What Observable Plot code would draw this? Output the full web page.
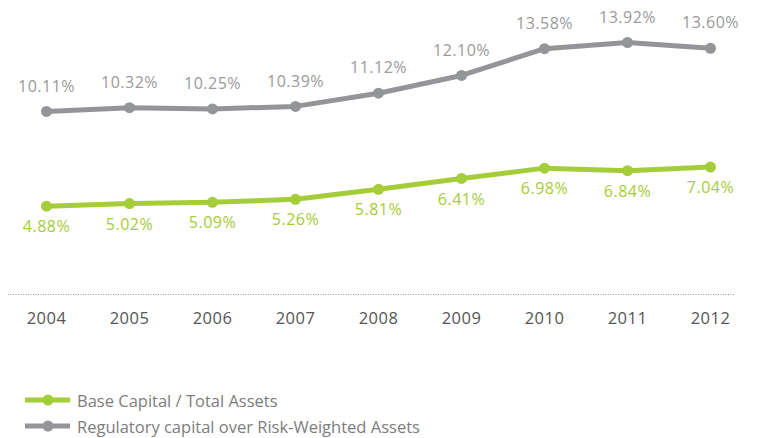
<!DOCTYPE html>
<html>
<head>
<meta charset="utf-8">
<script src="https://cdn.jsdelivr.net/npm/d3@7"></script>
<script src="https://cdn.jsdelivr.net/npm/@observablehq/plot@0.6"></script>
<style>
  html, body { margin: 0; padding: 0; background: #fff; }
  body { width: 760px; height: 438px; overflow: hidden; font-family: "Open Sans", Lato, sans-serif; }
  #legend { margin-top: 53px; margin-left: 25px; }
  .row { display: flex; align-items: center; height: 26px; font-size: 16.5px; color: #7d7d7d; }
  .sw { width: 45px; height: 14px; margin-right: 7px; }
  svg text { letter-spacing: 0.5px; }
</style>
</head>
<body>
<div id="chart"></div>
<div id="legend"></div>
<script>
const years = [2004, 2005, 2006, 2007, 2008, 2009, 2010, 2011, 2012];
const baseCapital = [4.88, 5.02, 5.09, 5.26, 5.81, 6.41, 6.98, 6.84, 7.04];
const regulatory = [10.11, 10.32, 10.25, 10.39, 11.12, 12.10, 13.58, 13.92, 13.60];
const seriesNames = ["Base Capital / Total Assets", "Regulatory capital over Risk-Weighted Assets"];
const green = "#a5cd39";
const gray = "#949599";

const green_d = years.map((y, i) => ({year: y, value: baseCapital[i]}));
const gray_d = years.map((y, i) => ({year: y, value: regulatory[i]}));
const fmt = d => d.value.toFixed(2) + "%";

const chart = Plot.plot({
  width: 760,
  height: 334,
  marginLeft: 46,
  marginRight: 50,
  marginTop: 20,
  marginBottom: 40,
  style: {fontFamily: "'Open Sans', Lato, sans-serif", background: "#fff"},
  x: {type: "linear", domain: [2004, 2012], axis: null},
  y: {domain: [0, 15.135], axis: null},
  marks: [
    Plot.ruleY([0], {stroke: "#999", strokeDasharray: "1,1.5", strokeWidth: 1, insetLeft: -38, insetRight: -25}),
    Plot.text(years, {x: d => d, frameAnchor: "bottom", dy: 29, text: d => String(d), fill: "#555", fontSize: 16.5}),
    Plot.line(gray_d, {x: "year", y: "value", stroke: gray, strokeWidth: 5}),
    Plot.dot(gray_d, {x: "year", y: "value", fill: gray, r: 5.5}),
    Plot.text(gray_d, {x: "year", y: "value", text: fmt, dy: -25, fill: "#9a9a9a", fontSize: 16}),
    Plot.line(green_d, {x: "year", y: "value", stroke: green, strokeWidth: 5}),
    Plot.dot(green_d, {x: "year", y: "value", fill: green, r: 5.5}),
    Plot.text(green_d, {x: "year", y: "value", text: fmt, dy: 21, fill: green, fontSize: 16})
  ]
});
document.getElementById("chart").appendChild(chart);

const legend = document.getElementById("legend");
[[seriesNames[0], green], [seriesNames[1], gray]].forEach(([name, c]) => {
  const row = document.createElement("div");
  row.className = "row";
  row.innerHTML = `<svg class="sw" viewBox="0 0 45 14"><line x1="0" y1="7" x2="45" y2="7" stroke="${c}" stroke-width="5"/><circle cx="23" cy="7" r="5.5" fill="${c}"/></svg><span>${name}</span>`;
  legend.appendChild(row);
});
</script>
</body>
</html>
